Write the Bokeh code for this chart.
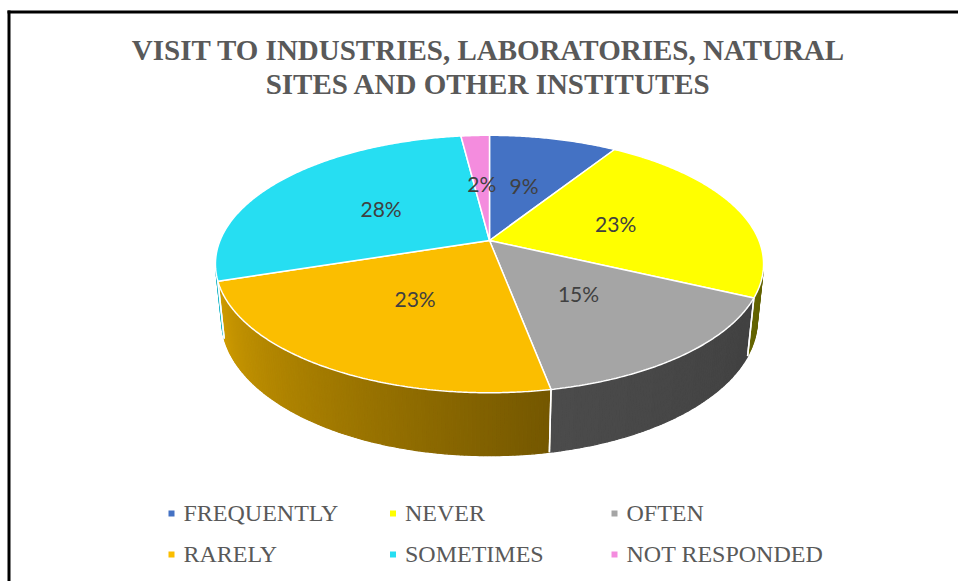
import numpy as np
from bokeh.plotting import figure
from bokeh.models import ColumnDataSource, Range1d
from bokeh.core.properties import value
from bokeh.embed import file_html
from bokeh.resources import INLINE

# ---------------- data ----------------
title_lines = ["VISIT TO INDUSTRIES, LABORATORIES, NATURAL", "SITES AND OTHER INSTITUTES"]
categories = ["FREQUENTLY", "NEVER", "OFTEN", "RARELY", "SOMETIMES", "NOT RESPONDED"]
values = [9, 23, 15, 23, 28, 2]
pct_labels = ["9%", "23%", "15%", "23%", "28%", "2%"]
colors = ["#4472C4", "#FFFF00", "#A5A5A5", "#FBBE00", "#26DEF2", "#F48CDE"]
side_colors = ["#4472C4", "#FFFF00", "#A5A5A5", "#FFC000", "#26DEF2", "#F48CDE"]

# ---------------- geometry ----------------
W, H = 958, 581
CX, CY = 489, 341          # pie apex on the canvas (y up)
PHI = np.radians(27.5)     # viewing elevation
RAD = 0.206                # pie radius relative to camera distance
FOC = 1308                 # focal length in px
THICK = 0.0485             # pie thickness


def proj(theta_deg, rad, z):
    t = np.radians(np.asarray(theta_deg, dtype=float))
    x = rad * np.sin(t)
    y = rad * np.cos(t)
    depth = 1 + y * np.cos(PHI) - z * np.sin(PHI)
    up = y * np.sin(PHI) + z * np.cos(PHI)
    return CX + FOC * x / depth, CY + FOC * up / depth


def shade(hex_color, f):
    h = hex_color.lstrip("#")
    r, g, b = (int(h[i:i + 2], 16) for i in (0, 2, 4))
    return "#%02x%02x%02x" % (int(r * f), int(g * f), int(b * f))


total = float(sum(values))
ends = np.cumsum(values) / total * 360.0
starts = np.concatenate([[0.0], ends[:-1]])

vis_a = np.degrees(np.arccos(-RAD / np.cos(PHI)))
vis_b = 360.0 - vis_a

p = figure(width=W, height=H, x_range=Range1d(0, W), y_range=Range1d(0, H),
           output_backend="svg", toolbar_location=None, min_border=0)
p.axis.visible = False
p.grid.visible = False
p.outline_line_color = None
p.background_fill_color = "white"

# ---- side walls (gradient strips) ----
wx, wy, wc = [], [], []
bx, by = [], []
for i, (a, b) in enumerate(zip(starts, ends)):
    lo, hi = max(a, vis_a), min(b, vis_b)
    if hi > lo:
        n = max(2, int(np.ceil((hi - lo) / 0.7)))
        ts = np.linspace(lo, hi, n + 1)
        for t0, t1 in zip(ts[:-1], ts[1:]):
            x0, y0 = proj([t0, t1], RAD, 0.0)
            x1, y1 = proj([t1, t0], RAD, -THICK)
            wx.append(list(x0) + list(x1))
            wy.append(list(y0) + list(y1))
            f = float(np.interp(0.5 * (t0 + t1), [100, 170, 260], [0.38, 0.46, 0.85]))
            wc.append(shade(side_colors[i], f))
    for t in (a, b):
        if vis_a < t < vis_b:
            xa, ya = proj([t, t], [RAD, RAD], np.array([0.0, -THICK]))
            bx.append(list(xa))
            by.append(list(ya))

p.patches("xs", "ys", source=ColumnDataSource(dict(xs=wx, ys=wy, c=wc)),
          fill_color="c", line_color="c", line_width=1.2)
p.multi_line(bx, by, line_color="white", line_width=1.5)

# ---- top faces ----
tx, ty = [], []
for a, b in zip(starts, ends):
    ts = np.linspace(a, b, max(3, int((b - a) / 0.5)))
    ax_, ay_ = proj(ts, RAD, 0.0)
    tx.append([CX] + list(ax_))
    ty.append([CY] + list(ay_))
p.patches("xs", "ys", source=ColumnDataSource(dict(xs=tx, ys=ty, c=colors)),
          fill_color="c", line_color="white", line_width=1.5)

# ---- percentage labels ----
mids = 0.5 * (starts + ends)
lx, ly = proj(mids, 0.5 * RAD, 0.0)
p.text(x=list(lx), y=list(ly), text=pct_labels, text_align="center", text_baseline="middle",
       text_font=value("Lato"), text_font_size="21px", text_color="#404040")

# ---- title ----
p.text(x=[488, 488], y=[532, 498], text=title_lines, text_align="center",
       text_baseline="middle", text_font=value("Liberation Serif"),
       text_font_style="bold", text_font_size="29px", text_color="#595959")

# ---- legend ----
col_x = [171 + 221.5 * (k % 3) for k in range(len(categories))]
row_y = [68 - 41 * (k // 3) for k in range(len(categories))]
p.rect(x=col_x, y=row_y, width=6, height=6, fill_color=colors, line_color=None)
p.text(x=[c + 12 for c in col_x], y=[r + 1 for r in row_y], text=categories,
       text_align="left", text_baseline="middle", text_font=value("Liberation Serif"),
       text_font_size="24px", text_color="#595959")

# ---- frame (top and left border) ----
p.quad(left=[7, 7], right=[W, 10], bottom=[568, 0], top=[571, 571],
       fill_color="black", line_color=None)

open("out.html", "w").write(file_html(p, INLINE))
